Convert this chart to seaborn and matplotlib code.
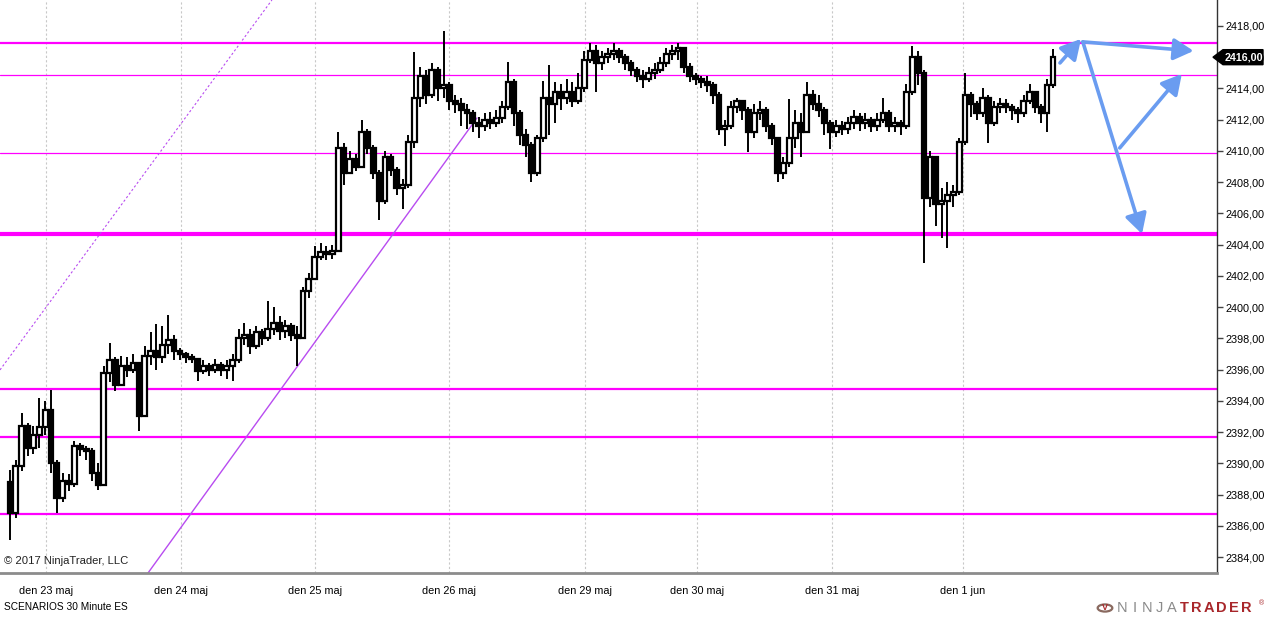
import numpy as np
import pandas as pd
import matplotlib
matplotlib.use("Agg")
import matplotlib.pyplot as plt
import seaborn as sns
from matplotlib.patches import Polygon, FancyArrowPatch
from matplotlib.transforms import blended_transform_factory

# --- candle data (ES), open = previous close ---
first_open = 2388.8
closes = [
    2386.8, 2389.8, 2392.4, 2391.0, 2391.8, 2392.3, 2393.4, 2390.0, 2387.8, 2388.9,
    2388.7, 2391.1, 2390.9, 2390.8, 2389.4, 2388.6, 2395.8, 2396.6, 2395.0, 2396.2,
    2396.0, 2396.4, 2393.0, 2396.9, 2397.2, 2396.8, 2397.6, 2397.9, 2397.2, 2397.0,
    2396.8, 2396.7, 2395.9, 2396.2, 2396.0, 2396.3, 2396.0, 2396.2, 2396.6, 2398.0,
    2398.2, 2397.5, 2398.4, 2398.0, 2398.6, 2399.0, 2398.5, 2398.8, 2398.2, 2398.0,
    2401.0, 2401.8, 2403.2, 2403.5, 2403.4, 2403.6, 2410.2, 2408.6, 2409.5, 2409.0,
    2411.2, 2410.2, 2408.6, 2406.8, 2409.6, 2408.8, 2407.6, 2407.8, 2410.6, 2413.4,
    2414.8, 2413.6, 2415.2, 2414.0, 2414.2, 2413.2, 2413.0, 2412.6, 2412.4, 2411.8,
    2411.6, 2412.0, 2411.8, 2412.1, 2412.8, 2414.4, 2412.4, 2411.0, 2410.4, 2408.6,
    2410.8, 2413.4, 2413.0, 2413.8, 2413.4, 2413.8, 2413.2, 2414.0, 2415.8, 2416.4,
    2415.6, 2416.0, 2416.2, 2416.4, 2416.0, 2415.6, 2415.2, 2414.8, 2414.6, 2415.0,
    2415.2, 2415.6, 2416.2, 2416.4, 2416.6, 2415.4, 2414.8, 2414.6, 2414.4, 2414.2,
    2413.6, 2411.4, 2411.6, 2412.8, 2413.2, 2412.6, 2411.2, 2412.4, 2412.6, 2411.6,
    2410.8, 2408.6, 2409.2, 2410.8, 2411.8, 2411.2, 2413.6, 2413.0, 2412.6, 2411.8,
    2411.2, 2411.6, 2411.4, 2411.8, 2412.2, 2411.8, 2412.0, 2411.6, 2412.0, 2412.4,
    2411.6, 2411.8, 2411.6, 2413.8, 2416.0, 2415.0, 2407.0, 2409.6, 2406.6, 2406.8,
    2407.2, 2407.4, 2410.6, 2413.6, 2413.0, 2412.4, 2413.4, 2411.8, 2412.8, 2413.0,
    2412.8, 2412.6, 2412.4, 2413.2, 2413.8, 2412.8, 2412.4, 2414.2, 2416.0,
]
highs = [
    2389.6, 2390.2, 2393.2, 2392.6, 2392.4, 2394.2, 2394.0, 2394.7, 2390.2, 2389.4,
    2389.3, 2391.4, 2391.3, 2391.1, 2391.0, 2390.0, 2396.2, 2397.7, 2396.8, 2396.9,
    2396.8, 2397.0, 2396.4, 2397.5, 2398.4, 2398.9, 2398.8, 2399.5, 2398.2, 2397.4,
    2397.1, 2397.0, 2396.6, 2396.6, 2396.4, 2396.7, 2396.5, 2396.6, 2397.0, 2398.6,
    2399.0, 2398.6, 2398.8, 2398.6, 2400.4, 2400.0, 2399.4, 2399.2, 2399.0, 2398.8,
    2401.3, 2402.2, 2403.9, 2404.1, 2403.9, 2404.0, 2411.2, 2410.5, 2410.0, 2409.8,
    2412.0, 2411.4, 2410.4, 2408.8, 2410.0, 2409.8, 2409.0, 2408.2, 2411.0, 2416.3,
    2415.4, 2415.2, 2415.6, 2415.4, 2417.7, 2414.4, 2413.6, 2413.4, 2413.0, 2412.6,
    2412.2, 2412.4, 2412.5, 2412.6, 2413.2, 2415.7, 2414.6, 2412.6, 2411.4, 2410.6,
    2411.0, 2414.5, 2415.5, 2414.4, 2414.3, 2414.6, 2414.4, 2415.0, 2416.4, 2416.9,
    2416.8, 2416.4, 2416.6, 2416.9, 2416.6, 2416.2, 2415.8, 2415.4, 2415.2, 2415.4,
    2415.6, 2416.0, 2416.6, 2416.8, 2416.9, 2416.6, 2415.6, 2415.0, 2414.8, 2414.8,
    2414.4, 2413.8, 2412.0, 2413.2, 2413.4, 2413.2, 2412.8, 2413.0, 2413.2, 2412.8,
    2411.8, 2410.8, 2409.6, 2413.3, 2412.6, 2412.4, 2414.4, 2413.9, 2413.6, 2412.8,
    2412.0, 2412.0, 2411.9, 2412.2, 2412.6, 2412.4, 2412.4, 2412.2, 2412.4, 2413.4,
    2412.6, 2412.2, 2412.0, 2414.3, 2416.7, 2416.4, 2415.2, 2410.0, 2409.4, 2407.6,
    2408.0, 2407.8, 2410.8, 2415.0, 2413.8, 2413.2, 2414.0, 2413.6, 2413.2, 2413.4,
    2413.3, 2413.0, 2412.8, 2413.6, 2414.3, 2413.8, 2413.0, 2414.6, 2416.5,
]
lows = [
    2385.1, 2386.5, 2389.5, 2390.5, 2390.6, 2391.0, 2391.8, 2389.4, 2386.8, 2387.5,
    2388.2, 2388.5, 2390.5, 2390.2, 2388.9, 2388.3, 2388.6, 2395.2, 2394.6, 2395.0,
    2395.5, 2395.8, 2392.1, 2393.0, 2396.3, 2396.0, 2396.4, 2397.0, 2396.6, 2396.6,
    2396.4, 2396.4, 2395.3, 2395.7, 2395.6, 2395.8, 2395.6, 2395.4, 2395.3, 2396.4,
    2397.6, 2397.0, 2397.3, 2397.6, 2397.8, 2398.2, 2397.9, 2398.0, 2397.8, 2396.2,
    2398.0, 2400.6, 2401.8, 2403.0, 2403.0, 2403.1, 2403.5, 2407.8, 2408.8, 2408.7,
    2409.0, 2409.8, 2408.2, 2405.6, 2406.6, 2408.4, 2407.2, 2406.3, 2407.6, 2410.2,
    2412.8, 2413.0, 2413.4, 2413.2, 2413.4, 2412.6, 2412.4, 2411.6, 2411.4, 2411.2,
    2410.8, 2411.3, 2411.4, 2411.5, 2411.8, 2412.6, 2411.6, 2410.4, 2409.6, 2408.0,
    2408.4, 2410.6, 2411.0, 2411.8, 2412.6, 2413.0, 2412.8, 2413.0, 2413.8, 2415.6,
    2413.8, 2415.2, 2415.6, 2415.8, 2415.6, 2415.2, 2414.8, 2414.4, 2414.0, 2414.4,
    2414.6, 2415.0, 2415.4, 2415.8, 2415.8, 2415.0, 2414.4, 2414.2, 2414.0, 2413.8,
    2413.0, 2411.0, 2410.3, 2411.4, 2412.4, 2412.0, 2409.9, 2410.8, 2412.0, 2411.2,
    2410.4, 2408.0, 2408.2, 2409.0, 2410.2, 2409.6, 2411.2, 2412.6, 2412.2, 2411.0,
    2410.1, 2410.9, 2411.0, 2411.1, 2411.4, 2411.3, 2411.4, 2411.2, 2411.3, 2411.8,
    2411.2, 2411.2, 2411.0, 2411.4, 2413.6, 2414.2, 2402.8, 2406.4, 2405.2, 2404.4,
    2403.8, 2406.4, 2407.2, 2410.4, 2412.2, 2412.0, 2412.2, 2410.5, 2411.6, 2412.4,
    2412.4, 2412.0, 2411.8, 2412.2, 2413.0, 2412.4, 2411.8, 2411.2, 2414.0,
]

# session starts (bar index) and their labels
day_bars = [6.14, 29.18, 52.05, 74.91, 98.12, 117.24, 140.27, 162.63]
day_labels = ["den 23 maj", "den 24 maj", "den 25 maj", "den 26 maj",
              "den 29 maj", "den 30 maj", "den 31 maj", "den 1 jun"]

# horizontal levels: price, linewidth
levels = [2416.9, 2414.85, 2409.87, 2404.68, 2394.76, 2391.69, 2386.76]
level_widths = [1.6, 0.9, 0.9, 3.0, 1.6, 1.6, 1.6]

# trend channel (bar, price)
channel_solid = [(23.55, 2382.98), (79.7, 2412.11)]
channel_dashed = [(-1.71, 2395.98), (44.7, 2419.66)]

# scenario arrows (start bar, start price, end bar, end price)
scenarios = [
    (179.2, 2415.63, 182.8, 2417.17),
    (183.1, 2416.98, 202.0, 2416.40),
    (183.1, 2416.98, 193.2, 2404.68),
    (189.4, 2410.19, 200.0, 2414.93),
]
last_price = 2416.00

df = pd.DataFrame({"close": closes, "high": highs, "low": lows})
df["open"] = [first_open] + closes[:-1]
df["bar"] = np.arange(len(df))
df["up"] = df["close"] >= df["open"]

sns.set_theme(style="white")
plt.rcParams["font.family"] = ["Liberation Sans", "DejaVu Sans"]

fig = plt.figure(figsize=(12.64, 6.17), dpi=100)
ax = fig.add_axes([0, (617 - 573) / 617, 1217 / 1264, 573 / 617])

ax.set_xlim(-1.71, 206.0)
ax.set_ylim(2382.98, 2419.66)

# vertical day grid
for b in day_bars:
    ax.axvline(b, color="#c8c8c8", lw=0.8, ls=(0, (2, 2)), zorder=0)

# levels
for lv, w in zip(levels, level_widths):
    ax.axhline(lv, color="#ff00ff", lw=w, zorder=1)

# channel lines
sol = pd.DataFrame(channel_solid, columns=["bar", "price"])
sns.lineplot(data=sol, x="bar", y="price", ax=ax, color="#b84cf0", lw=1.0, zorder=1)
das = pd.DataFrame(channel_dashed, columns=["bar", "price"])
sns.lineplot(data=das, x="bar", y="price", ax=ax, color="#b84cf0", lw=0.8,
             ls=(0, (2, 2)), zorder=1)

# candles
ax.vlines(df["bar"], df["low"], df["high"], color="black", lw=1.4, zorder=3)
body_lo = df[["open", "close"]].min(axis=1)
body_h = (df["close"] - df["open"]).abs().clip(lower=0.1)
ax.bar(df["bar"], body_h, bottom=body_lo, width=0.82,
       color=np.where(df["up"], "white", "black"), edgecolor="black",
       linewidth=1.6, zorder=4)

# scenario arrows
for sx, sy, ex, ey in scenarios:
    arr = FancyArrowPatch((sx, sy), (ex, ey), arrowstyle="-|>,head_length=10,head_width=5.5",
                          color="#6a9cf0", lw=2.6, shrinkA=0, shrinkB=0, zorder=5,
                          mutation_scale=1.2)
    ax.add_patch(arr)

# axis styling
ax.yaxis.tick_right()
ticks = np.arange(2384, 2419, 2)
ax.set_yticks(ticks)
ax.set_yticklabels([f"{t:.2f}".replace(".", ",") for t in ticks], fontsize=7.8, color="black")
ax.set_xticks(day_bars)
ax.set_xticklabels(day_labels, fontsize=7.8, color="black")
ax.tick_params(axis="both", direction="out", length=4, width=1, color="#444444")
ax.tick_params(axis="x", pad=5)
ax.tick_params(axis="y", pad=2)
ax.set_xlabel("")
ax.set_ylabel("")
for s in ["top", "left"]:
    ax.spines[s].set_visible(False)
ax.spines["bottom"].set_color("#8c8c8c")
ax.spines["bottom"].set_linewidth(2)
ax.spines["right"].set_color("#333333")
ax.spines["right"].set_linewidth(1)

# last price marker
tr = blended_transform_factory(ax.transAxes, ax.transData)
half = 7.5 / 15.62
xa = 1213 / 1217
xb = 1223 / 1217
xc = 1263 / 1217
marker = Polygon([(xa, last_price), (xb, last_price + half), (xc, last_price + half),
                  (xc, last_price - half), (xb, last_price - half)],
                 closed=True, transform=tr, facecolor="black", edgecolor="black",
                 clip_on=False, zorder=6)
ax.add_patch(marker)
ax.text(1243.5 / 1217, last_price, f"{last_price:.2f}".replace(".", ","), transform=tr,
        color="white", fontsize=7.7, fontweight="bold", ha="center", va="center",
        clip_on=False, zorder=7)

# captions
fig.text(4 / 1264, 1 - 561 / 617, "\u00a9 2017 NinjaTrader, LLC", fontsize=8.1,
         color="#222222", ha="left", va="center")
fig.text(4 / 1264, 1 - 607 / 617, "SCENARIOS 30 Minute ES", fontsize=7.3,
         color="black", ha="left", va="center")

# NinjaTrader logo, spaced letters
brand = "NINJATRADER"
for k, ch in enumerate(brand):
    col = "#8a8a8a" if k < 5 else "#a8262a"
    fig.text((1122 + k * 12.4) / 1264, 1 - 608 / 617, ch, fontsize=10.5, color=col,
             ha="center", va="center", fontweight="normal" if k < 5 else "bold")
fig.text(1259 / 1264, 1 - 604 / 617, "\u00ae", fontsize=5, color="#a8262a",
         ha="left", va="center")
logo = plt.Circle((1105 / 1264, 1 - 608 / 617), 0.0058, transform=fig.transFigure,
                  facecolor="none", edgecolor="#8a6a60", lw=1.6)
fig.add_artist(logo)
fig.text(1105 / 1264, 1 - 608 / 617, "V", fontsize=6.5, color="#a8262a", ha="center",
         va="center", fontweight="bold")

fig.savefig("out.png", dpi=100)
